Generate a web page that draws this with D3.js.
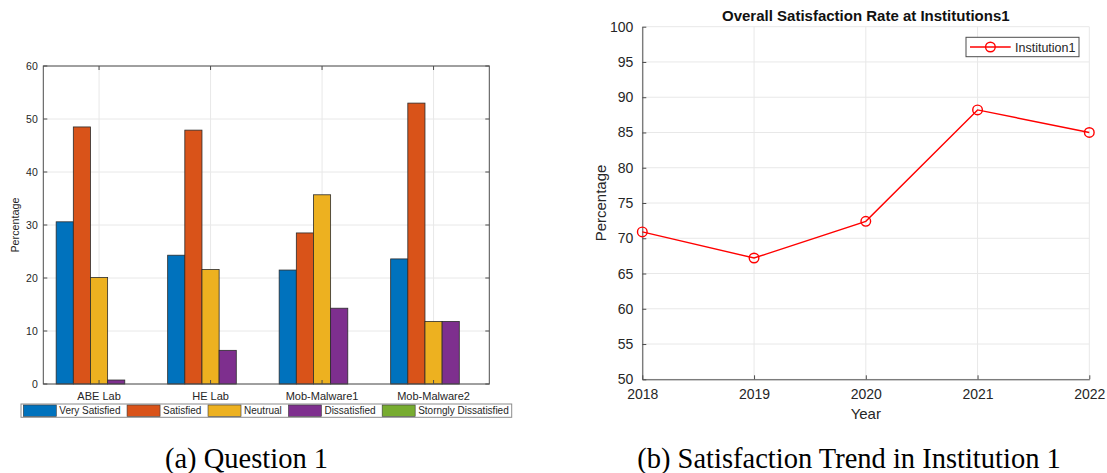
<!DOCTYPE html>
<html>
<head>
<meta charset="utf-8">
<script src="https://cdn.jsdelivr.net/npm/d3@7/dist/d3.min.js"></script>
<style>
  html, body { margin: 0; padding: 0; background: #fff; }
  svg { display: block; }
  text { font-family: "Liberation Sans", Arial, Helvetica, sans-serif; }
</style>
</head>
<body>
<svg id="fig" width="1107" height="473"></svg>
<script>
// ---- Panel (a): Question 1 responses per lab ----
const labs = ["ABE Lab", "HE Lab", "Mob-Malware1", "Mob-Malware2"];
const responseLevels = ["Very Satisfied", "Satisfied", "Neutrual", "Dissatisfied", "Storngly Dissatisfied"];
const verySatisfied = [30.6, 24.3, 21.5, 23.6];
const satisfied = [48.5, 47.9, 28.5, 53.0];
const neutral = [20.1, 21.6, 35.7, 11.8];
const dissatisfied = [0.75, 6.35, 14.3, 11.8];
const stronglyDissatisfied = [0, 0, 0, 0];
const barTicks = [0, 10, 20, 30, 40, 50, 60];

// ---- Panel (b): yearly overall satisfaction ----
const years = [2018, 2019, 2020, 2021, 2022];
const institution1 = [70.9, 67.2, 72.4, 88.2, 85.0];
const rateTicks = [50, 55, 60, 65, 70, 75, 80, 85, 90, 95, 100];

const palette = ["#0072BD", "#D95319", "#EDB120", "#7E2F8E", "#77AC30"];
const series = [verySatisfied, satisfied, neutral, dissatisfied, stronglyDissatisfied];

const svg = d3.select("#fig");
const axisColor = "#4d4d4d";
const gridColor = "#e8e8e8";
const tickLen = 4;
const serif = "'Liberation Serif', 'Times New Roman', serif";

// ================= Panel (a) =================
(function () {
  const L = 43.3, R = 489.3, T = 66, B = 384;
  const x = d3.scaleLinear().domain([0.5, labs.length + 0.5]).range([L, R]);
  const y = d3.scaleLinear().domain([0, 60]).range([B, T]);
  const g = svg.append("g");

  // grid
  g.selectAll(".gy").data(barTicks).join("line")
    .attr("x1", L).attr("x2", R).attr("y1", d => y(d)).attr("y2", d => y(d))
    .attr("stroke", gridColor).attr("stroke-width", 1);
  g.selectAll(".gx").data(labs).join("line")
    .attr("x1", (d, i) => x(i + 1)).attr("x2", (d, i) => x(i + 1))
    .attr("y1", T).attr("y2", B)
    .attr("stroke", gridColor).attr("stroke-width", 1);

  // grouped bars
  const n = series.length;
  const groupW = Math.min(0.8, n / (n + 1.5));
  const bw = groupW / n;
  series.forEach((vals, s) => {
    g.append("g").selectAll("rect").data(vals).join("rect")
      .attr("x", (d, i) => x(i + 1 + (s - (n - 1) / 2) * bw - bw / 2))
      .attr("width", x(1 + bw) - x(1))
      .attr("y", d => y(d))
      .attr("height", d => y(0) - y(d))
      .attr("fill", palette[s])
      .attr("stroke", d => d > 0 ? "#2b2b2b" : "none")
      .attr("stroke-width", 0.8);
  });

  // box + inward ticks
  g.append("rect").attr("x", L).attr("y", T).attr("width", R - L).attr("height", B - T)
    .attr("fill", "none").attr("stroke", axisColor).attr("stroke-width", 1);
  barTicks.forEach(t => {
    g.append("line").attr("x1", L).attr("x2", L + tickLen).attr("y1", y(t)).attr("y2", y(t)).attr("stroke", axisColor);
    g.append("line").attr("x1", R).attr("x2", R - tickLen).attr("y1", y(t)).attr("y2", y(t)).attr("stroke", axisColor);
  });
  labs.forEach((c, i) => {
    g.append("line").attr("x1", x(i + 1)).attr("x2", x(i + 1)).attr("y1", B).attr("y2", B - tickLen).attr("stroke", axisColor);
    g.append("line").attr("x1", x(i + 1)).attr("x2", x(i + 1)).attr("y1", T).attr("y2", T + tickLen).attr("stroke", axisColor);
  });

  // tick labels
  g.selectAll(".yl").data(barTicks).join("text")
    .attr("x", L - 5.5).attr("y", d => y(d)).attr("dy", "0.35em")
    .attr("text-anchor", "end").attr("font-size", 10.5).attr("fill", "#262626")
    .text(d => d);
  g.selectAll(".xl").data(labs).join("text")
    .attr("x", (d, i) => x(i + 1)).attr("y", 400)
    .attr("text-anchor", "middle").attr("font-size", 11).attr("fill", "#262626")
    .text(d => d);
  g.append("text")
    .attr("transform", `translate(19,${(T + B) / 2}) rotate(-90)`)
    .attr("text-anchor", "middle").attr("font-size", 10.8).attr("fill", "#262626")
    .text("Percentage");

  // legend
  const lg = g.append("g");
  const lx0 = 21, ly0 = 404, lh = 13.3;
  let cx = lx0 + 2.3;
  responseLevels.forEach((name, i) => {
    lg.append("rect").attr("x", cx).attr("y", ly0 + 1).attr("width", 33).attr("height", lh - 2)
      .attr("fill", palette[i]).attr("stroke", "#3a3a3a").attr("stroke-width", 0.6);
    const t = lg.append("text").attr("x", cx + 36).attr("y", ly0 + lh / 2).attr("dy", "0.36em")
      .attr("font-size", 10).attr("fill", "#262626").text(name);
    cx += 36 + t.node().getComputedTextLength() + 6.6;
  });
  lg.insert("rect", ":first-child").attr("x", lx0).attr("y", ly0).attr("width", 511.7 - lx0).attr("height", lh)
    .attr("fill", "#fff").attr("stroke", "#8c8c8c").attr("stroke-width", 1);

  svg.append("text").attr("x", 246.5).attr("y", 468)
    .attr("text-anchor", "middle").attr("font-size", 28.5)
    .style("font-family", serif)
    .attr("fill", "#000").text("(a) Question 1");
})();

// ================= Panel (b) =================
(function () {
  const L = 642.3, R = 1089.3, T = 26.7, B = 379.3;
  const x = d3.scaleLinear().domain([years[0], years[years.length - 1]]).range([L, R]);
  const y = d3.scaleLinear().domain([50, 100]).range([B, T]);
  const g = svg.append("g");

  g.selectAll(".gy").data(rateTicks).join("line")
    .attr("x1", L).attr("x2", R).attr("y1", d => y(d)).attr("y2", d => y(d))
    .attr("stroke", gridColor).attr("stroke-width", 1);
  g.selectAll(".gx").data(years).join("line")
    .attr("x1", d => x(d)).attr("x2", d => x(d)).attr("y1", T).attr("y2", B)
    .attr("stroke", gridColor).attr("stroke-width", 1);

  // axes (left + bottom), inward ticks
  const yAxis = d3.axisLeft(y).tickValues(rateTicks).tickSizeInner(-tickLen).tickSizeOuter(0).tickPadding(9);
  const xAxis = d3.axisBottom(x).tickValues(years).tickFormat(d3.format("d")).tickSizeInner(-tickLen).tickSizeOuter(0).tickPadding(10);
  const ya = g.append("g").attr("transform", `translate(${L},0)`).call(yAxis);
  const xa = g.append("g").attr("transform", `translate(0,${B})`).call(xAxis);
  [ya, xa].forEach(a => {
    a.select(".domain").attr("stroke", axisColor).attr("stroke-width", 1);
    a.selectAll(".tick line").attr("stroke", axisColor);
    a.selectAll(".tick text").attr("font-size", 14).attr("fill", "#262626")
      .style("font-family", "'Liberation Sans', Arial, sans-serif");
  });

  // line + markers
  const pts = years.map((yr, i) => [yr, institution1[i]]);
  g.append("path").datum(pts)
    .attr("d", d3.line().x(d => x(d[0])).y(d => y(d[1])))
    .attr("fill", "none").attr("stroke", "#ff0000").attr("stroke-width", 1.4);
  g.selectAll(".mk").data(pts).join("circle")
    .attr("cx", d => x(d[0])).attr("cy", d => y(d[1])).attr("r", 4.8)
    .attr("fill", "none").attr("stroke", "#ff0000").attr("stroke-width", 1.4);

  // title and axis labels
  g.append("text").attr("x", (L + R) / 2).attr("y", 21)
    .attr("text-anchor", "middle").attr("font-size", 15).attr("font-weight", "bold").attr("fill", "#111")
    .text("Overall Satisfaction Rate at Institutions1");
  g.append("text").attr("x", (L + R) / 2).attr("y", 419)
    .attr("text-anchor", "middle").attr("font-size", 15).attr("fill", "#262626").text("Year");
  g.append("text")
    .attr("transform", `translate(606,${(T + B) / 2}) rotate(-90)`)
    .attr("text-anchor", "middle").attr("font-size", 15).attr("fill", "#262626").text("Percentage");

  // legend
  const lg = g.append("g");
  lg.append("rect").attr("x", 966).attr("y", 37.3).attr("width", 113).attr("height", 19.4)
    .attr("fill", "#fff").attr("stroke", "#4d4d4d").attr("stroke-width", 1);
  lg.append("line").attr("x1", 970).attr("x2", 1010.7).attr("y1", 47).attr("y2", 47)
    .attr("stroke", "#ff0000").attr("stroke-width", 1.4);
  lg.append("circle").attr("cx", 990.4).attr("cy", 47).attr("r", 4.8)
    .attr("fill", "none").attr("stroke", "#ff0000").attr("stroke-width", 1.4);
  lg.append("text").attr("x", 1015).attr("y", 47).attr("dy", "0.36em")
    .attr("font-size", 12.5).attr("fill", "#262626").text("Institution1");

  svg.append("text").attr("x", 849).attr("y", 468)
    .attr("text-anchor", "middle").attr("font-size", 28.5)
    .style("font-family", serif)
    .attr("fill", "#000").text("(b) Satisfaction Trend in Institution 1");
})();
</script>
</body>
</html>
